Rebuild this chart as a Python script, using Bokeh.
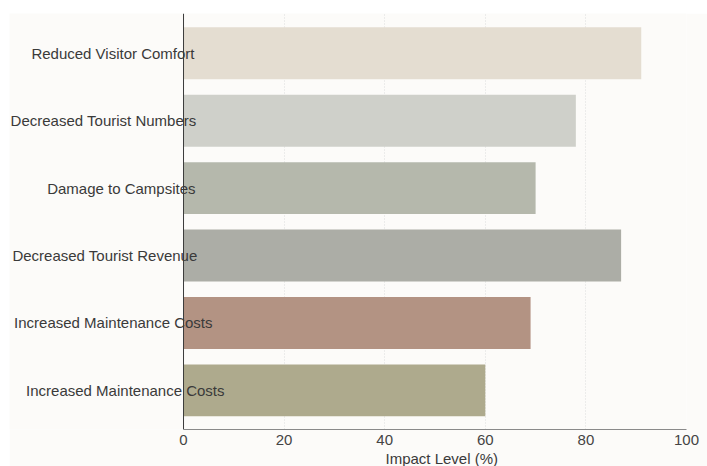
from bokeh.plotting import figure
from bokeh.models import Range1d, FixedTicker, ColumnDataSource, LabelSet, Span, Title
from bokeh.core.properties import value
from bokeh.embed import file_html
from bokeh.resources import INLINE

# Impact of weather events on campsite tourism (top to bottom)
categories = [
    "Reduced Visitor Comfort",
    "Decreased Tourist Numbers",
    "Damage to Campsites",
    "Decreased Tourist Revenue",
    "Increased Maintenance Costs",
    "Increased Maintenance Costs",
]
impact = [91, 78, 70, 87, 69, 60]
colors = ["#e4ddd1", "#cfd0ca", "#b5b8ac", "#acada6", "#b39383", "#aeaa8d"]
x_ticks = [0, 20, 40, 60, 80, 100]

# how far (px) each name runs past the axis line
label_shift = [11, 13, 12, 14, 29, 41]

n = len(categories)
# numeric positions so that repeated category names stay separate rows
ypos = [n - 1 - i for i in range(n)]

FONT = "Liberation Sans"
BG = "#fcfbf9"

src = ColumnDataSource(dict(y=ypos, right=impact, color=colors,
                            name=categories, zero=[0] * n, shift=label_shift))

# the frame reaches to the left edge so the category names sit inside it;
# the axis line and value axis are limited to 0..100
p = figure(
    width=698, height=453,
    x_range=Range1d(-34.6, 100),
    y_range=Range1d(-0.58, n - 1 + 0.59),
    output_backend="svg", toolbar_location=None,
    background_fill_color=BG, border_fill_color=BG,
    y_axis_location=None,
    min_border_left=0, min_border_right=21,
    min_border_top=0, min_border_bottom=20,
    outline_line_color=None,
)
p.margin = (13, 0, 0, 9)

# grid under the bars
p.xgrid.ticker = FixedTicker(ticks=x_ticks)
p.xgrid.grid_line_color = "#dcdcdc"
p.xgrid.grid_line_dash = "1 2"
p.ygrid.grid_line_color = None

p.hbar(y="y", right="right", left=0, height=0.77, fill_color="color",
       line_color=None, source=src)

# vertical axis line at zero
p.add_layout(Span(location=0, dimension="height", line_color="#3a3a3a",
                  line_width=1))

# category names, right-aligned a little past the axis line
names = LabelSet(x="zero", y="y", text="name", source=src,
                 x_offset="shift", text_align="right", text_baseline="middle",
                 text_font=value(FONT), text_font_size="15px",
                 text_color="#3a3a3a")
p.add_layout(names)

# x axis
p.xaxis.ticker = FixedTicker(ticks=x_ticks)
p.xaxis.bounds = (0, 100)
p.xaxis.major_label_text_font = FONT
p.xaxis.major_label_text_font_size = "15px"
p.xaxis.major_label_text_color = "#444444"
p.xaxis.major_label_standoff = 5
p.xaxis.axis_line_color = "#8a8a8a"
p.xaxis.major_tick_out = 0
p.xaxis.major_tick_in = 0
p.xaxis.minor_tick_line_color = None

# axis title centred under the 0..100 span
p.add_layout(Title(text="Impact Level (%)", align="left", offset=376,
                   text_font=FONT, text_font_style="normal",
                   text_font_size="15px", text_color="#3a3a3a",
                   standoff=0), "below")

open("out.html", "w").write(file_html(p, INLINE))
